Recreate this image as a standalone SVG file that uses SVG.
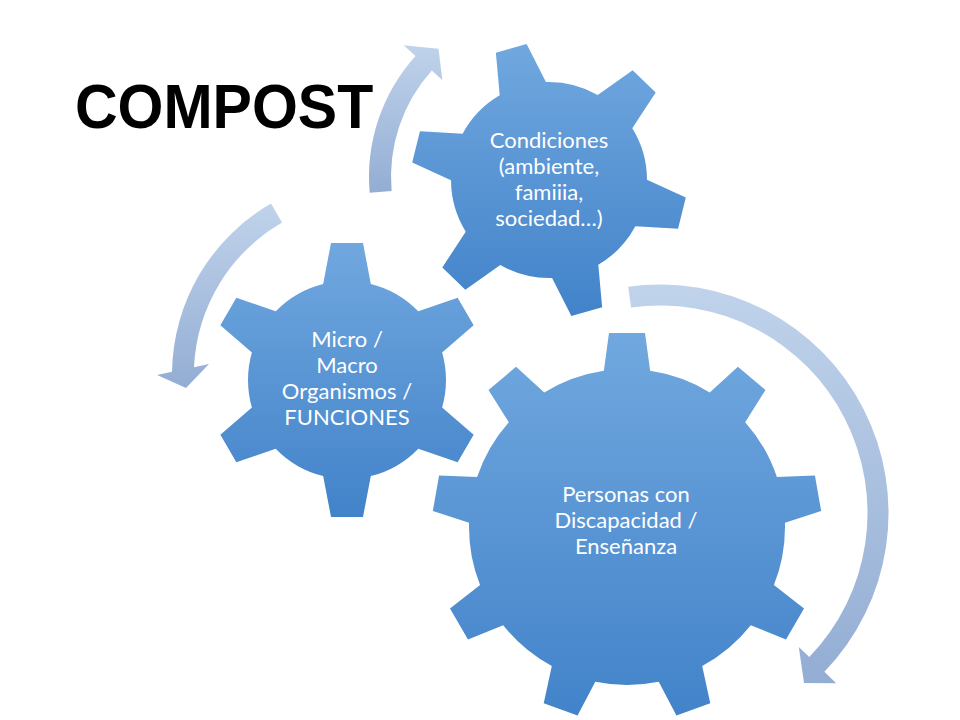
<svg xmlns="http://www.w3.org/2000/svg" xmlns:xlink="http://www.w3.org/1999/xlink" width="960" height="720" viewBox="0 0 960 720">
  <style>
    .title { font-family: "Liberation Sans", Arial, sans-serif; font-weight: bold; font-size: 59px; fill: #000000; }
    .label { font-family: Lato, "Noto Sans", sans-serif; font-size: 22px; fill: #ffffff; text-anchor: middle; }
    .arrow { fill: url(#arrowGrad); }
  </style>
  <defs>
    <linearGradient id="gearGrad" x1="0" y1="0" x2="0" y2="1">
      <stop offset="0" stop-color="#71A8DF"/>
      <stop offset="1" stop-color="#4182C9"/>
    </linearGradient>
    <linearGradient id="arrowGrad" x1="0" y1="0" x2="0" y2="1">
      <stop offset="0" stop-color="#C0D3EB"/>
      <stop offset="1" stop-color="#93ADD3"/>
    </linearGradient>
    <polygon id="tooth9" points="-18,-194 18,-194 24,-150 -24,-150"/>
    <polygon id="tooth6" points="-16,-137 16,-137 25,-90 -25,-90"/>
    <clipPath id="clipLarge">
      <circle cx="627" cy="527" r="158"/>
      <use xlink:href="#tooth9" transform="translate(627 527) rotate(0)"/>
      <use xlink:href="#tooth9" transform="translate(627 527) rotate(40)"/>
      <use xlink:href="#tooth9" transform="translate(627 527) rotate(80)"/>
      <use xlink:href="#tooth9" transform="translate(627 527) rotate(120)"/>
      <use xlink:href="#tooth9" transform="translate(627 527) rotate(160)"/>
      <use xlink:href="#tooth9" transform="translate(627 527) rotate(200)"/>
      <use xlink:href="#tooth9" transform="translate(627 527) rotate(240)"/>
      <use xlink:href="#tooth9" transform="translate(627 527) rotate(280)"/>
      <use xlink:href="#tooth9" transform="translate(627 527) rotate(320)"/>
    </clipPath>
    <clipPath id="clipMid">
      <circle cx="347" cy="380" r="99"/>
      <use xlink:href="#tooth6" transform="translate(347 380) rotate(0)"/>
      <use xlink:href="#tooth6" transform="translate(347 380) rotate(60)"/>
      <use xlink:href="#tooth6" transform="translate(347 380) rotate(120)"/>
      <use xlink:href="#tooth6" transform="translate(347 380) rotate(180)"/>
      <use xlink:href="#tooth6" transform="translate(347 380) rotate(240)"/>
      <use xlink:href="#tooth6" transform="translate(347 380) rotate(300)"/>
    </clipPath>
    <clipPath id="clipTop">
      <circle cx="549" cy="180" r="98"/>
      <use xlink:href="#tooth6" transform="translate(549 180) rotate(-16)"/>
      <use xlink:href="#tooth6" transform="translate(549 180) rotate(44)"/>
      <use xlink:href="#tooth6" transform="translate(549 180) rotate(104)"/>
      <use xlink:href="#tooth6" transform="translate(549 180) rotate(164)"/>
      <use xlink:href="#tooth6" transform="translate(549 180) rotate(224)"/>
      <use xlink:href="#tooth6" transform="translate(549 180) rotate(284)"/>
    </clipPath>
  </defs>

  <rect width="960" height="720" fill="#ffffff"/>

  <g id="title">
    <text class="title" transform="translate(75 128) scale(1 1.08)">COMPOST</text>
  </g>

  <g id="connectors">
    <path class="arrow" d="M369.7,192.8 A181,181 0 0 1 415.5,55.9 L403.6,45.2 L438.5,48.7 L442.3,80 L431.8,70.6 A159,159 0 0 0 391.6,190.9 Z"/>
    <path class="arrow" d="M271,203.5 A198,198 0 0 0 172,371.8 L157,375 L186,388 L209,364 L194,367.2 A176,176 0 0 1 282,222.6 Z"/>
    <path class="arrow" d="M628.2,286.7 A228.5,228.5 0 0 1 824.4,671.7 L836.2,683.2 L804,683 L798.8,647.1 L809.3,657.1 A207.5,207.5 0 0 0 631.1,307.5 Z"/>
  </g>

  <g id="gear-condiciones">
    <rect x="410" y="40" width="280" height="280" fill="url(#gearGrad)" clip-path="url(#clipTop)"/>
    <text class="label" x="549" y="148">Condiciones</text>
    <text class="label" x="549" y="174">(ambiente,</text>
    <text class="label" x="549" y="200">famiiia,</text>
    <text class="label" x="549" y="226">sociedad…)</text>
  </g>

  <g id="gear-micro-macro">
    <rect x="205" y="238" width="284" height="284" fill="url(#gearGrad)" clip-path="url(#clipMid)"/>
    <text class="label" x="347" y="347">Micro /</text>
    <text class="label" x="347" y="373">Macro</text>
    <text class="label" x="347" y="399">Organismos /</text>
    <text class="label" x="347" y="425">FUNCIONES</text>
  </g>

  <g id="gear-personas">
    <rect x="430" y="330" width="394" height="394" fill="url(#gearGrad)" clip-path="url(#clipLarge)"/>
    <text class="label" x="626" y="502">Personas con</text>
    <text class="label" x="626" y="528">Discapacidad /</text>
    <text class="label" x="626" y="554">Enseñanza</text>
  </g>
</svg>
